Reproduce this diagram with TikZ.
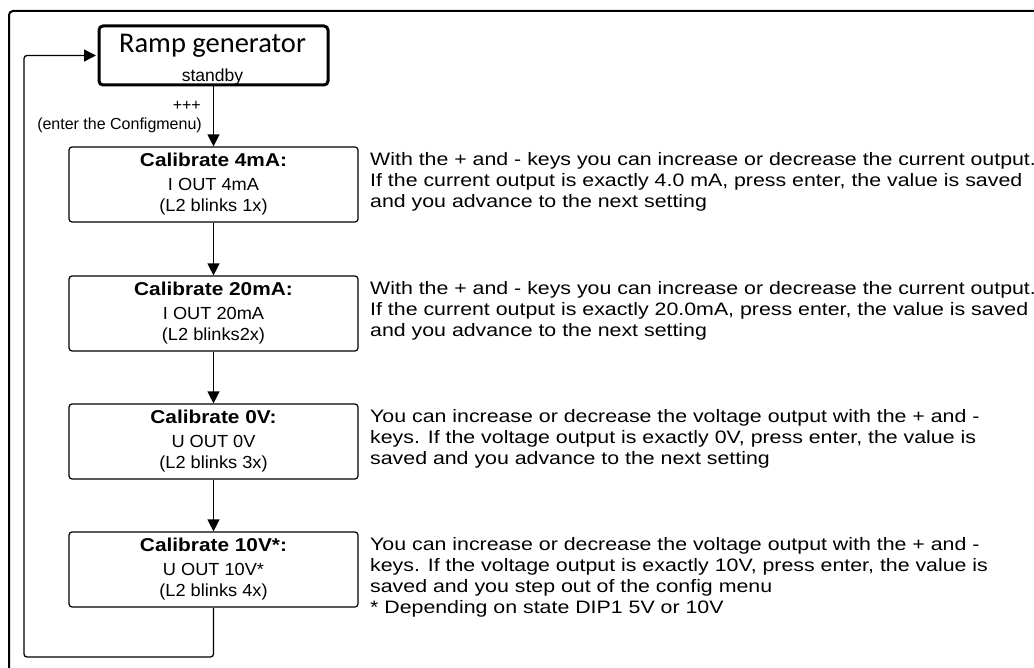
\documentclass[tikz,border=0pt]{standalone}
\usepackage{fontspec}
\setmainfont{Liberation Sans}
\newfontfamily\calib{Carlito}
\newfontfamily\bstr{Liberation Sans}[FakeStretch=1.12]
\newfontfamily\rstr{Liberation Sans}[FakeStretch=1.04]
\newfontfamily\dstr{Liberation Sans}[FakeStretch=1.185]
\usetikzlibrary{arrows.meta}
\tikzset{
  frame/.style={draw=black, line width=2pt, rounded corners=4pt},
  rampbox/.style={draw=black, line width=3pt, rounded corners=4pt, minimum width=229pt, minimum height=59pt, inner sep=0pt},
  calbox/.style={draw=black, line width=1.2pt, rounded corners=3pt, minimum width=289pt, minimum height=75pt, inner sep=0pt},
  ttl/.style={anchor=base, inner sep=0pt, font=\bstr\bfseries\fontsize{18.6}{22}\selectfont},
  sub/.style={anchor=base, inner sep=0pt, font=\rstr\fontsize{17.5}{21}\selectfont},
  desc/.style={anchor=north west, inner sep=0pt, align=left, font=\dstr\fontsize{18}{21}\selectfont},
  lbl/.style={anchor=base east, inner sep=0pt, font=\fontsize{16}{19}\selectfont},
  conn/.style={draw=black, line width=1.3pt},
  arr/.style={conn, -{Triangle[width=12pt,length=12pt]}}
}
\begin{document}
\begin{tikzpicture}[x=1pt,y=-1pt]
\useasboundingbox (0,0) rectangle (1034,668);
\clip (0,0) rectangle (1034,668);
\draw[frame] (9,11) rectangle (1060,700);

% Ramp generator
\node[rampbox] (ramp) at (213.5,55.5) {};
\node[anchor=base, inner sep=0pt, font=\calib\fontsize{28.5}{32}\selectfont] (rampt) at (212.5,52.7) {Ramp generator};
\node[anchor=base, inner sep=0pt, font=\fontsize{17.5}{20}\selectfont] (ramps) at (212.5,82) {standby};

% Calibrate boxes
\node[calbox] (c1) at (213.5,184.5) {};
\node[calbox] (c2) at (213.5,313.5) {};
\node[calbox] (c3) at (213.5,441.5) {};
\node[calbox] (c4) at (213.5,569.5) {};

\node[ttl] (c1a) at ([yshift=-20pt]c1.north) {Calibrate 4mA:};
\node[sub] (c1b) at ([yshift=-44.5pt]c1.north) {I OUT 4mA};
\node[sub] (c1c) at ([yshift=-65.5pt]c1.north) {(L2 blinks 1x)};

\node[ttl] (c2a) at ([yshift=-20pt]c2.north) {Calibrate 20mA:};
\node[sub] (c2b) at ([yshift=-44.5pt]c2.north) {I OUT 20mA};
\node[sub] (c2c) at ([yshift=-65.5pt]c2.north) {(L2 blinks2x)};

\node[ttl] (c3a) at ([yshift=-20pt]c3.north) {Calibrate 0V:};
\node[sub] (c3b) at ([yshift=-44.5pt]c3.north) {U OUT 0V};
\node[sub] (c3c) at ([yshift=-65.5pt]c3.north) {(L2 blinks 3x)};

\node[ttl] (c4a) at ([yshift=-20pt]c4.north) {Calibrate 10V*:};
\node[sub] (c4b) at ([yshift=-44.5pt]c4.north) {U OUT 10V*};
\node[sub] (c4c) at ([yshift=-65.5pt]c4.north) {(L2 blinks 4x)};

% Descriptions
\node[desc] (d1) at (370,150.3) {\strut With the + and - keys you can increase or decrease the current output.\\If the current output is exactly 4.0 mA, press enter, the value is saved\\and you advance to the next setting};
\node[desc] (d2) at (370,279.3) {\strut With the + and - keys you can increase or decrease the current output.\\If the current output is exactly 20.0mA, press enter, the value is saved\\and you advance to the next setting};
\node[desc] (d3) at (370,407.3) {\strut You can increase or decrease the voltage output with the + and -\\keys. If the voltage output is exactly 0V, press enter, the value is\\saved and you advance to the next setting};
\node[desc] (d4) at (370,535.3) {\strut You can increase or decrease the voltage output with the + and -\\keys. If the voltage output is exactly 10V, press enter, the value is\\saved and you step out of the config menu\\* Depending on state DIP1 5V or 10V};

% Labels
\node[lbl] (plus) at (201,111) {+++};
\node[lbl] (enter) at (202,130) {(enter the Configmenu)};

% Connectors
\draw[arr] (ramp.south) -- (c1.north);
\draw[arr] (c1.south) -- (c2.north);
\draw[arr] (c2.south) -- (c3.north);
\draw[arr] (c3.south) -- (c4.north);
\coordinate (lb) at (24,657);
\draw[arr, rounded corners=3pt, shorten >=1.5pt] (c4.south) |- (lb) |- (ramp.west);
\end{tikzpicture}
\end{document}
